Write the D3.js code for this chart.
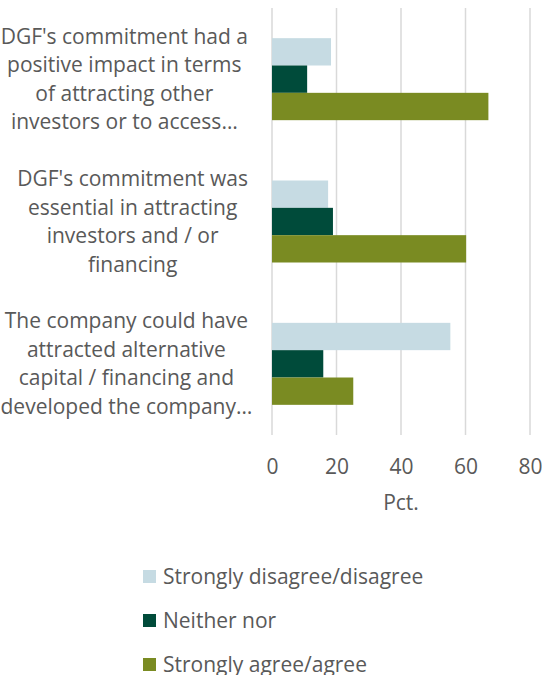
<!DOCTYPE html>
<html>
<head>
<meta charset="utf-8">
<script src="https://cdn.jsdelivr.net/npm/d3@7"></script>
<style>
body { margin: 0; background: #fff; }
text { font-family: "Open Sans", sans-serif; fill: #595959; }
</style>
</head>
<body>
<div id="chart"></div>
<script>

const width = 542, height = 675

// categories, top to bottom, already wrapped like the original
const categories = [
    ["DGF's commitment had a", "positive impact in terms", "of attracting other", "investors or to access\u2026"],
    ["DGF's commitment was", "essential in attracting", "investors and / or", "financing"],
    ["The company could have", "attracted alternative", "capital / financing and", "developed the company\u2026"]
]
const seriesNames = ["Strongly disagree/disagree", "Neither nor", "Strongly agree/agree"]
const colors = ["#c6dbe3", "#004b3a", "#7a8b22"]

const disagree = [18.3, 17.4, 55.3]
const neither = [10.9, 18.9, 15.9]
const agree = [67.1, 60.2, 25.2]

const xTicks = [0, 20, 40, 60, 80]

const plot = {left: 272, right: 530, top: 8, bottom: 435}

const x = d3.scaleLinear().domain([0, 80]).range([plot.left, plot.right])
const y = d3.scaleBand().domain([0, 1, 2]).range([plot.top, plot.bottom])
const ySub = d3.scaleBand().domain([0, 1, 2]).range([0, 82])

const svg = d3.select('#chart').append('svg').attr("width", width).attr("height", height)

// gridlines
svg.append('g')
    .selectAll('line')
    .data(xTicks)
    .enter()
    .append('line')
    .attr("x1", d => x(d))
    .attr("x2", d => x(d))
    .attr("y1", plot.top)
    .attr("y2", plot.bottom)
    .attr("stroke", "#d9d9d9")
    .attr("stroke-width", 1.5)

// bars
const values = [disagree, neither, agree]
values.forEach(function (vals, s) {
    svg.append('g')
        .selectAll('rect')
        .data(vals)
        .enter()
        .append('rect')
        .attr("x", x(0))
        .attr("y", (d, i) => y(i) + (y.bandwidth() - 82) / 2 + ySub(s))
        .attr("width", d => x(d) - x(0))
        .attr("height", ySub.bandwidth())
        .attr("fill", colors[s])
})

// x axis labels
const axisBottom = d3.axisBottom(x).tickValues(xTicks).tickSize(0).tickPadding(0)
const ax = svg.append('g')
    .attr("transform", `translate(0,${plot.bottom + 24})`)
    .call(axisBottom)
ax.select(".domain").remove()
ax.selectAll("text").attr("font-size", 21).attr("fill", "#595959").attr("font-family", "Open Sans")

svg.append('text')
    .attr("x", x(40))
    .attr("y", 503)
    .attr("dy", "0.35em")
    .attr("text-anchor", "middle")
    .attr("font-size", 21)
    .text("Pct.")

// category labels
const lineGap = 28.5
categories.forEach(function (lines, i) {
    const g = svg.append('g')
    const texts = g.selectAll('text')
        .data(lines)
        .enter()
        .append('text')
        .attr("y", (d, j) => y(i) + y.bandwidth() / 2 + (j - 1.5) * lineGap)
        .attr("dy", "0.35em")
        .attr("text-anchor", "middle")
        .attr("font-size", 21)
        .text(d => d)
    let maxW = 0
    texts.each(function (d) {
        if (d.indexOf("\u2026") < 0) maxW = Math.max(maxW, this.getComputedTextLength())
    })
    texts.attr("x", 248 - maxW / 2)
})

// legend
const legend = svg.append('g')
    .selectAll('g')
    .data(seriesNames)
    .enter()
    .append('g')
    .attr("transform", (d, i) => `translate(143,${577 + i * 44})`)

legend.append('rect')
    .attr("x", 0)
    .attr("y", -7)
    .attr("width", 13)
    .attr("height", 13)
    .attr("fill", (d, i) => colors[i])

legend.append('text')
    .attr("x", 20)
    .attr("dy", "0.35em")
    .attr("font-size", 21)
    .text(d => d)

</script>
</body>
</html>
